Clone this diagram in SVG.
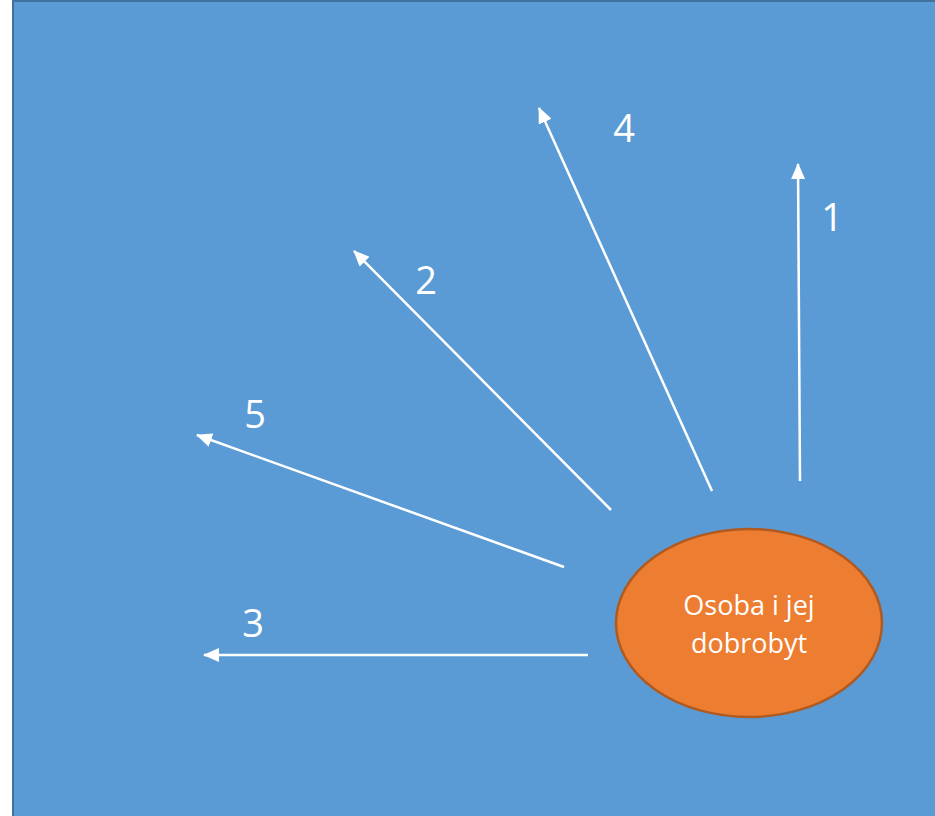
<svg xmlns="http://www.w3.org/2000/svg" width="935" height="816" viewBox="0 0 935 816">
<style>
.bg{fill:#5B9BD5;stroke:#41719C;stroke-width:2}
.arr{stroke:#FFFFFF;stroke-width:2.5;fill:none;marker-end:url(#ah)}
.num{font-family:"Open Sans","DejaVu Sans",sans-serif;font-size:38px;fill:#FFFFFF;text-anchor:middle}
.lbl{font-family:"Open Sans","DejaVu Sans",sans-serif;font-size:27px;fill:#FFFFFF;text-anchor:middle}
</style>
<defs>
<marker id="ah" viewBox="0 0 16 14" refX="15" refY="7" markerWidth="16" markerHeight="14" markerUnits="userSpaceOnUse" orient="auto">
<path d="M0,0 L16,7 L0,14 Z" fill="#FFFFFF"/>
</marker>
</defs>
<rect width="935" height="816" fill="#FFFFFF"/>
<rect class="bg" x="13" y="1" width="930" height="830"/>
<g id="connectors">
<line class="arr" x1="800" y1="481" x2="798" y2="164"/>
<line class="arr" x1="712" y1="491" x2="539" y2="108"/>
<line class="arr" x1="611" y1="510" x2="354" y2="251"/>
<line class="arr" x1="564" y1="567" x2="197" y2="435"/>
<line class="arr" x1="588" y1="655" x2="204" y2="655"/>
</g>
<g id="label1"><text class="num" x="832" y="231">1</text></g>
<g id="label4"><text class="num" x="624" y="142">4</text></g>
<g id="label2"><text class="num" x="426" y="294">2</text></g>
<g id="label5"><text class="num" x="255" y="428">5</text></g>
<g id="label3"><text class="num" x="253" y="637">3</text></g>
<g id="center">
<ellipse cx="749" cy="623" rx="133" ry="94" fill="#ED7D31" stroke="#AE5A21" stroke-width="2.5"/>
<text class="lbl" x="749" y="615">Osoba i jej</text>
<text class="lbl" x="749" y="653">dobrobyt</text>
</g>
</svg>
